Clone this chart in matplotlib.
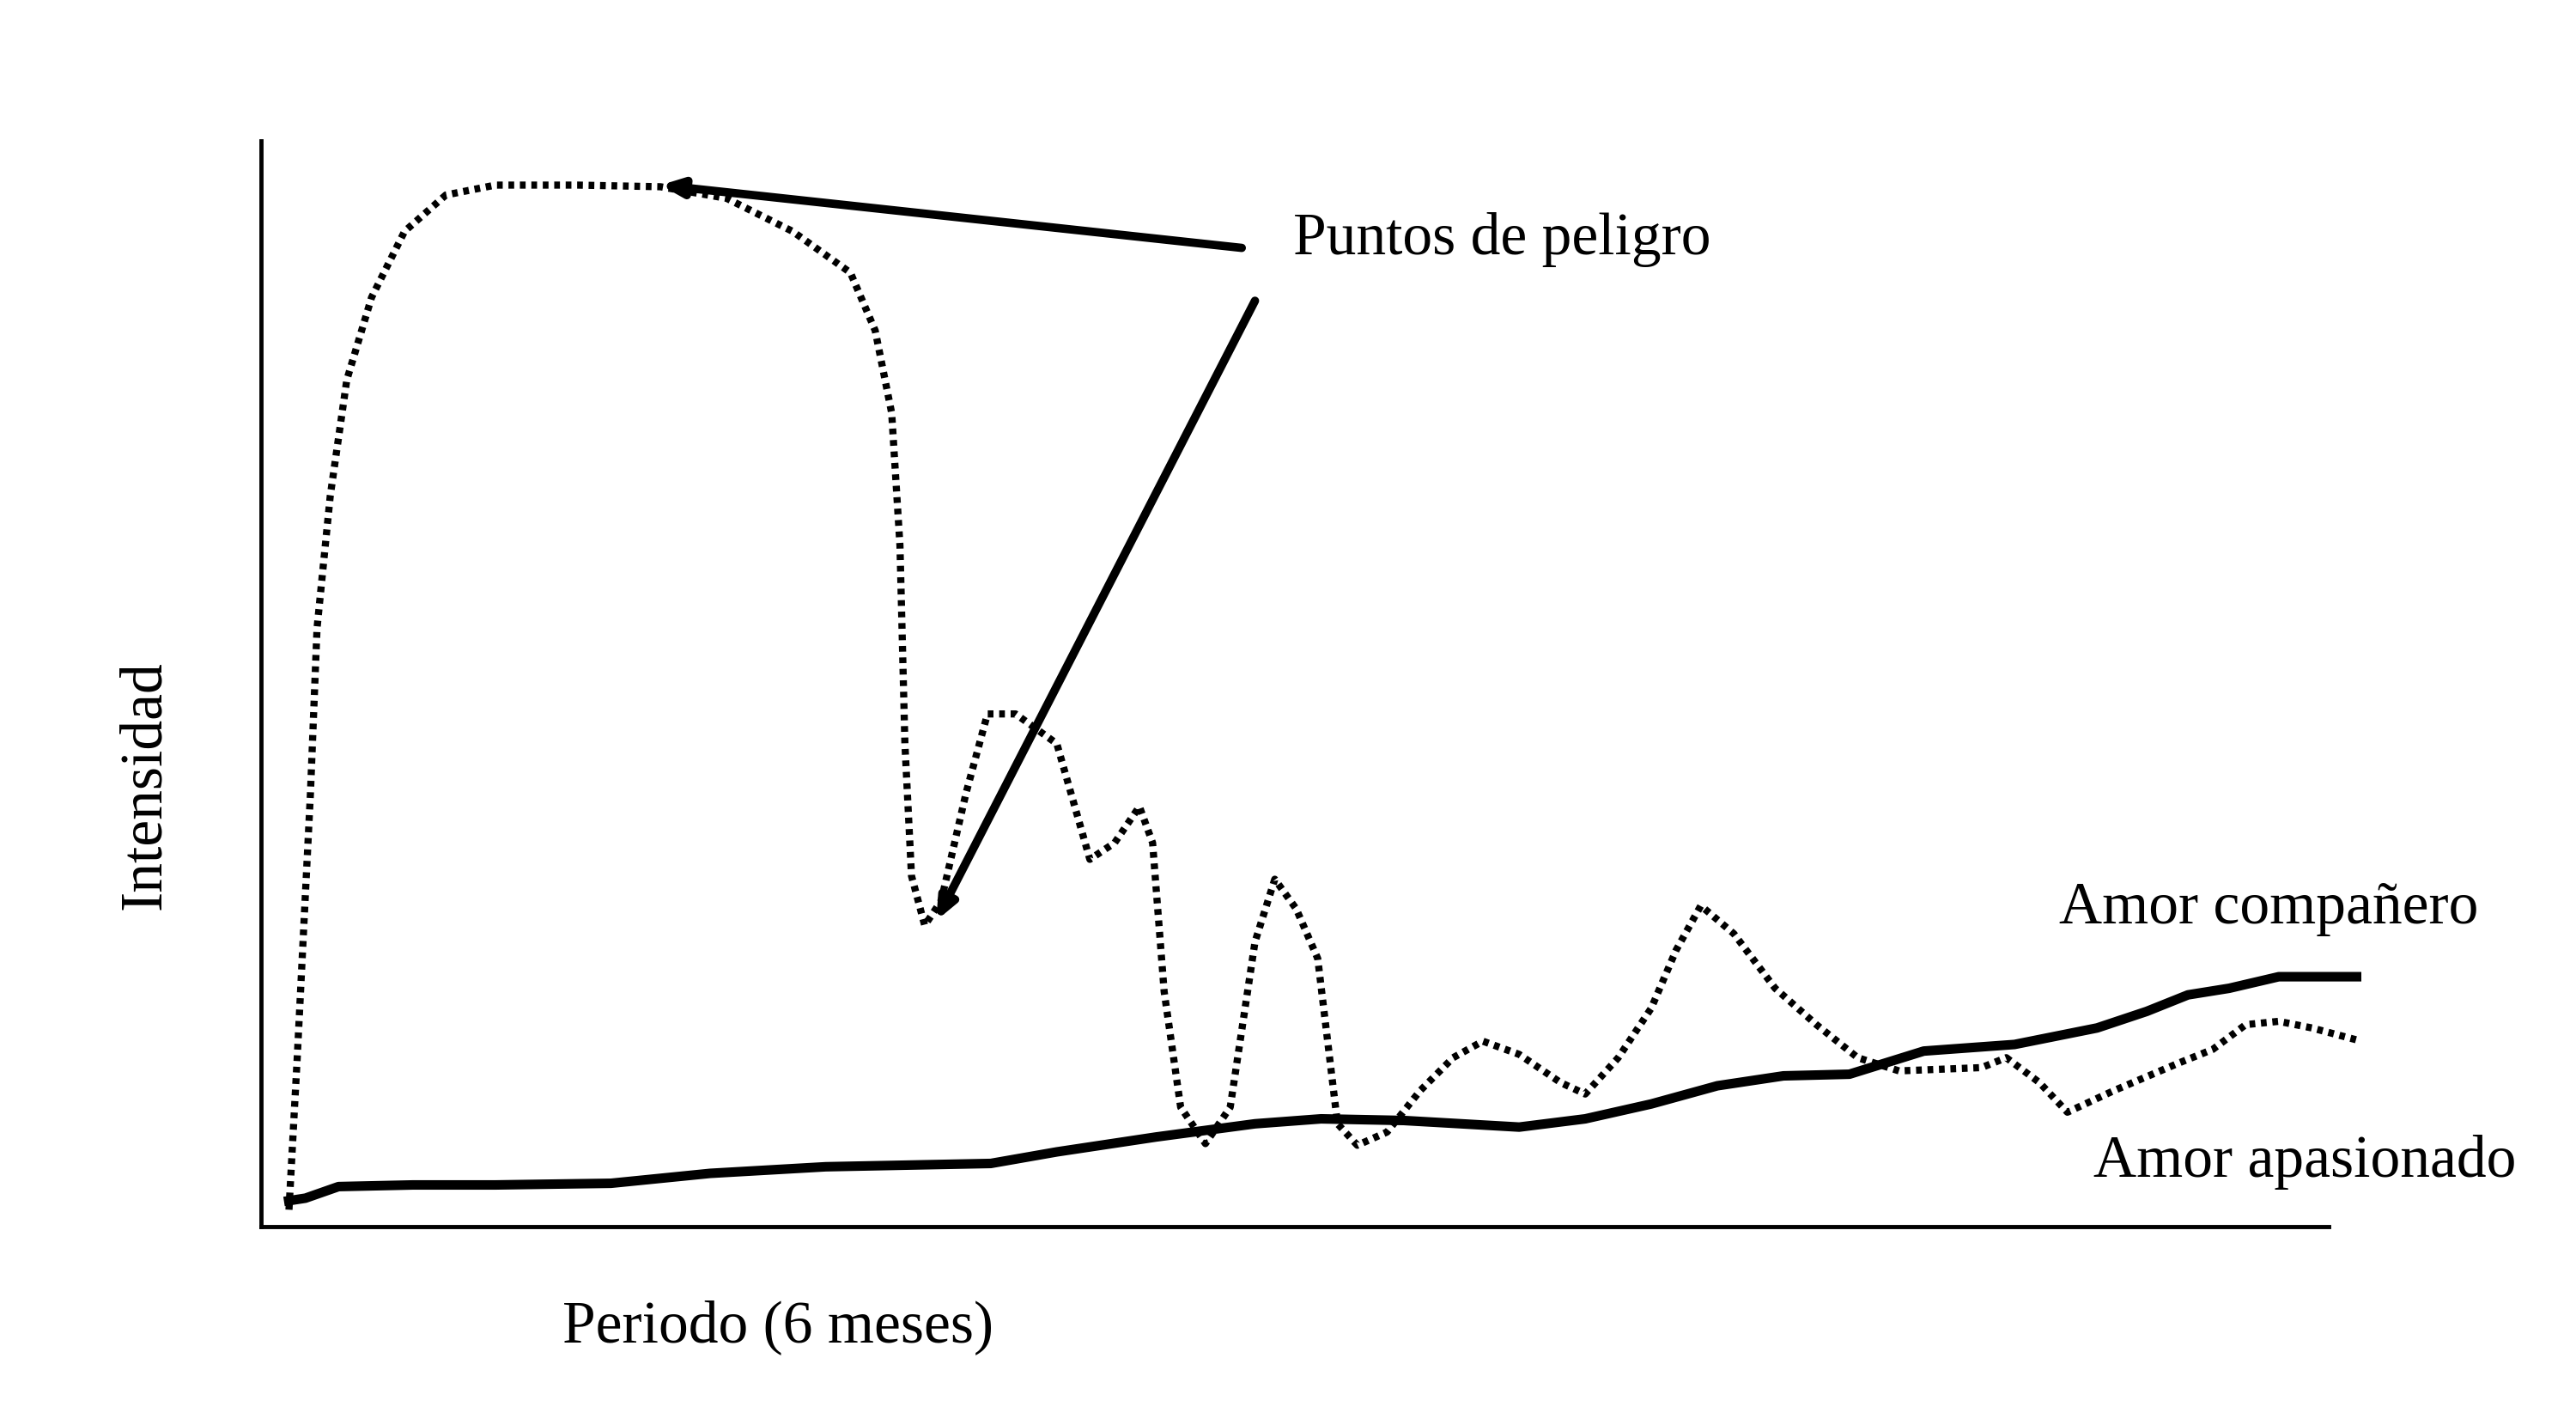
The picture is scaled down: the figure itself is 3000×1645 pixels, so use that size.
import matplotlib
matplotlib.use("Agg")
import matplotlib.pyplot as plt

apas_x = [17,22,30,34,42,52,67,87,112,142,192,242,282,322,357,372,382,387,390,394,402,412,427,440,457,482,502,517,532,540,547,557,572,587,602,614,627,640,652,664,682,702,722,740,762,787,802,822,842,857,872,892,917,942,967,992,1042,1057,1077,1094,1122,1162,1182,1202,1222,1242,1272]
apas_y = [10,102,262,362,442,512,562,602,624,630,630,629,622,602,577,542,492,412,292,212,182,197,262,310,310,292,222,232,254,232,142,72,50,72,172,210,192,162,62,49,57,82,102,112,104,87,80,102,132,167,194,177,144,122,102,94,96,102,87,69,82,99,107,122,124,120,112]
comp_x = [14,27,47,92,142,212,272,342,442,482,542,602,642,692,762,802,842,882,922,962,1007,1062,1112,1142,1167,1192,1222,1272]
comp_y = [15,17,24,25,25,26,32,36,38,45,54,62,65,64,60,65,74,85,91,92,106,110,120,130,140,144,151,151]

plt.rcParams['font.family'] = ['Liberation Serif', 'DejaVu Serif']
W, H = 1560, 855
fig = plt.figure(figsize=(30, 16.45), dpi=100)
ax = fig.add_axes([158/W, 1-742/H, (1410-158)/W, (742-85)/H])
ax.set_xlim(0, 1252); ax.set_ylim(0, 657)
for s in ['top', 'right']:
    ax.spines[s].set_visible(False)
for s in ['left', 'bottom']:
    ax.spines[s].set_linewidth(3.5)
ax.set_xticks([]); ax.set_yticks([])

ax.plot(apas_x, apas_y, color='black', lw=6, linestyle=(0, (0.8, 0.8)), clip_on=False)
ax.plot(comp_x, comp_y, color='black', lw=8, clip_on=False, solid_capstyle='butt')

ap = dict(arrowstyle='-|>,head_length=1.4,head_width=0.6', color='black', lw=7, shrinkA=0, shrinkB=0)
ax.annotate('', xy=(242, 630), xytext=(594, 592), arrowprops=ap, annotation_clip=False)
ax.annotate('', xy=(409, 185), xytext=(602, 560), arrowprops=ap, annotation_clip=False)

fs = 50
fig.text(783/W, 1-145/H, 'Puntos de peligro', fontsize=fs, va='center', ha='left')
fig.text(1247/W, 1-550/H, 'Amor compañero', fontsize=fs, va='center', ha='left')
fig.text(1268/W, 1-703/H, 'Amor apasionado', fontsize=fs, va='center', ha='left')
fig.text(88/W, 1-475/H, 'Intensidad', fontsize=fs, va='center', ha='center', rotation=90)
fig.text(471/W, 1-803/H, 'Periodo (6 meses)', fontsize=fs, va='center', ha='center')

fig.savefig('out.png', dpi=100, facecolor='white')
